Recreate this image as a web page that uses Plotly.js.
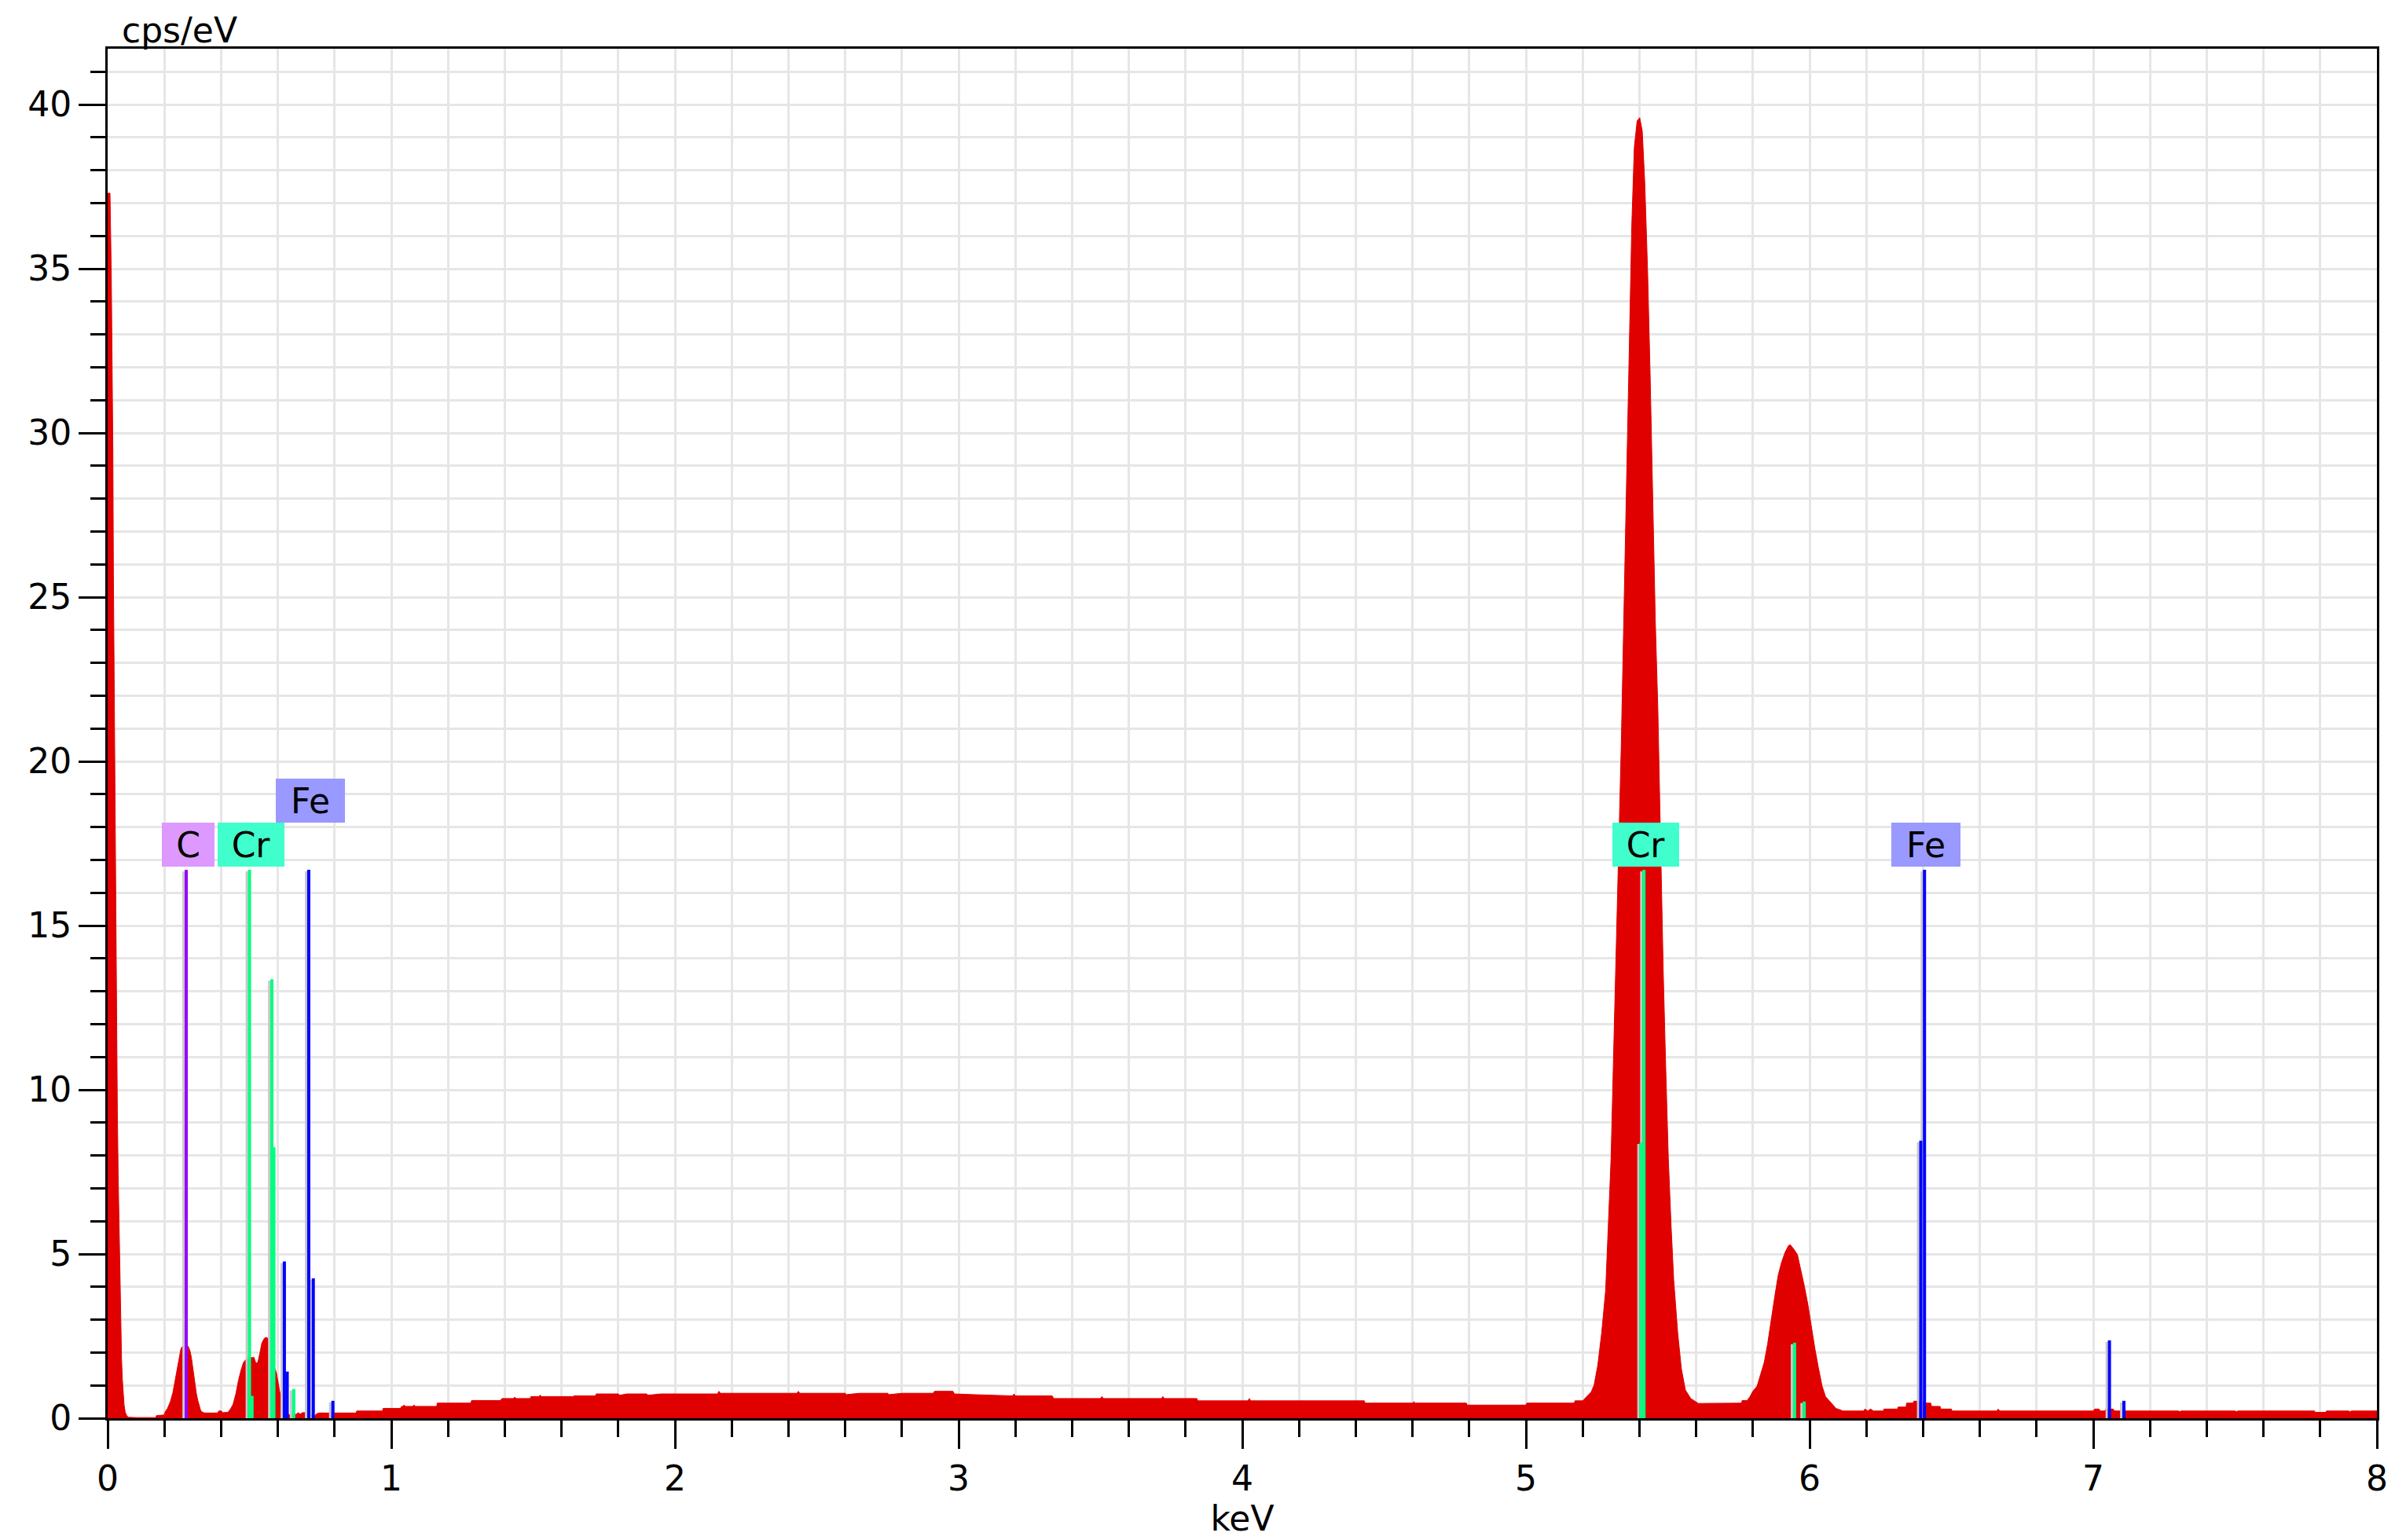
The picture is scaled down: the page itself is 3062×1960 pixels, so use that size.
<!DOCTYPE html>
<html><head><meta charset="utf-8">
<script src="https://cdn.plot.ly/plotly-3.0.1.min.js"></script>
<style>html,body{margin:0;padding:0;background:#fff}#chart{width:3062px;height:1960px}</style>
</head><body><div id="chart"></div>
<script>
// ---- Spectrum: [keV, cps/eV] ----
const specZero = [[0,37.3],[0.0083,37.3],[0.0129,34.8],[0.0157,32.3],[0.0185,29.4],[0.0203,25.7],[0.0231,22.2],[0.0259,18.6],[0.0286,15.4],[0.0314,12.2],[0.0342,9.4],[0.0369,7.5],[0.0406,5.6],[0.0434,3.7],[0.0462,2.8],[0.049,1.8],[0.0517,1.2],[0.0545,0.75],[0.058,0.4],[0.062,0.18],[0.067,0.08],[0.073,0.03],[0.10,0.02],[0.17,0.02]];
const specLow = [[0.172,0.08],[0.200,0.10],[0.202,0.18],[0.211,0.30],[0.221,0.50],[0.230,0.78],[0.239,1.22],[0.248,1.70],[0.258,2.10],[0.262,2.17],[0.276,2.22],[0.283,2.20],[0.290,2.06],[0.295,1.86],[0.299,1.58],[0.304,1.30],[0.308,0.98],[0.313,0.74],[0.318,0.54],[0.322,0.38],[0.327,0.26],[0.331,0.20],[0.341,0.16],[0.387,0.16],[0.392,0.22],[0.401,0.22],[0.405,0.17],[0.424,0.18],[0.433,0.28],[0.442,0.42],[0.452,0.74],[0.461,1.14],[0.470,1.46],[0.479,1.70],[0.489,1.80],[0.498,1.84],[0.507,1.85],[0.516,1.85],[0.523,1.66],[0.530,1.72],[0.537,2.00],[0.544,2.30],[0.553,2.44],[0.562,2.46],[0.572,2.30],[0.581,1.90],[0.590,1.50],[0.595,1.38],[0.599,1.18],[0.604,0.98],[0.608,0.74],[0.618,0.45],[0.627,0.25],[0.636,0.14],[0.641,0.10],[0.650,0.10],[0.664,0.12],[0.673,0.17],[0.678,0.12],[0.687,0.17],[0.696,0.17],[0.710,0.12],[0.730,0.08],[0.738,0.14],[0.747,0.16],[0.876,0.16],[0.878,0.22],[0.969,0.22],[0.971,0.30],[1.033,0.30],[1.036,0.36]];
const specBackground = [[1.04,0.36],[1.045,0.40],[1.05,0.36],[1.075,0.36],[1.08,0.40],[1.085,0.36],[1.16,0.36],[1.162,0.46],[1.28,0.46],[1.283,0.54],[1.385,0.54],[1.39,0.60],[1.43,0.60],[1.435,0.64],[1.44,0.60],[1.49,0.60],[1.492,0.66],[1.52,0.66],[1.525,0.70],[1.53,0.66],[1.64,0.66],[1.645,0.68],[1.72,0.68],[1.722,0.74],[1.80,0.74],[1.805,0.70],[1.83,0.74],[1.90,0.74],[1.905,0.70],[1.95,0.74],[2.15,0.74],[2.155,0.82],[2.16,0.76],[2.43,0.76],[2.435,0.82],[2.44,0.76],[2.60,0.76],[2.605,0.72],[2.65,0.76],[2.75,0.76],[2.755,0.72],[2.80,0.76],[2.91,0.76],[2.915,0.82],[2.98,0.82],[2.985,0.74],[3.05,0.72],[3.11,0.70],[3.19,0.68],[3.195,0.74],[3.20,0.68],[3.33,0.68],[3.335,0.60],[3.50,0.60],[3.505,0.66],[3.51,0.60],[3.715,0.60],[3.72,0.66],[3.725,0.60],[3.84,0.60],[3.843,0.53],[4.02,0.53],[4.025,0.60],[4.03,0.53],[4.43,0.53],[4.433,0.46],[4.60,0.46],[4.605,0.50],[4.61,0.46],[4.79,0.46],[4.793,0.40],[5.00,0.40],[5.003,0.46],[5.17,0.46],[5.173,0.53],[5.20,0.53]];
const specCrKa = [[5.215,0.66],[5.230,0.80],[5.240,1.0],[5.253,1.6],[5.267,2.6],[5.281,3.9],[5.290,5.8],[5.300,7.9],[5.309,11.1],[5.318,14.1],[5.327,17.3],[5.336,20.5],[5.346,24.8],[5.355,28.8],[5.364,32.8],[5.373,36.3],[5.382,38.7],[5.392,39.5],[5.401,39.6],[5.410,39.2],[5.419,37.6],[5.429,34.9],[5.438,31.7],[5.447,28.0],[5.456,24.3],[5.465,21.6],[5.470,19.4],[5.476,16.8],[5.484,13.6],[5.493,10.6],[5.502,7.9],[5.512,5.8],[5.521,4.2],[5.535,2.6],[5.548,1.5],[5.562,0.86],[5.581,0.60],[5.608,0.45],[5.70,0.45],[5.76,0.46],[5.762,0.54],[5.78,0.54]];
const specCrKb = [[5.79,0.66],[5.80,0.82],[5.815,0.98],[5.827,1.3],[5.84,1.7],[5.852,2.26],[5.864,2.98],[5.877,3.7],[5.889,4.34],[5.901,4.74],[5.914,5.06],[5.926,5.26],[5.932,5.28],[5.945,5.14],[5.957,4.98],[5.970,4.5],[5.982,4.0],[5.994,3.46],[6.007,2.74],[6.019,2.1],[6.031,1.54],[6.044,0.98],[6.056,0.66],[6.068,0.54],[6.081,0.42],[6.093,0.30],[6.118,0.22]];
const specHigh = [[6.19,0.22],[6.195,0.28],[6.205,0.22],[6.215,0.28],[6.225,0.22],[6.26,0.22],[6.262,0.28],[6.31,0.28],[6.312,0.34],[6.34,0.34],[6.342,0.46],[6.365,0.46],[6.367,0.52],[6.40,0.52],[6.41,0.46],[6.427,0.46],[6.43,0.36],[6.46,0.36],[6.462,0.28],[6.50,0.28],[6.502,0.22],[6.66,0.22],[6.665,0.28],[6.67,0.22],[7.00,0.22],[7.005,0.28],[7.02,0.28],[7.025,0.22],[7.04,0.22],[7.045,0.28],[7.07,0.28],[7.075,0.22],[7.30,0.22],[7.305,0.20],[7.31,0.22],[7.50,0.22],[7.505,0.20],[7.51,0.22],[7.78,0.22],[7.782,0.18],[7.82,0.18],[7.822,0.22],[7.90,0.22],[7.905,0.20],[7.91,0.22],[8.0,0.22]];

// ---- Element line markers ----
const lineEnergy  = [0.277, 0.500, 0.509, 0.579, 0.586, 0.656, 0.623, 0.633, 0.709, 0.725, 0.794, 5.406, 5.416, 5.947, 5.981, 6.392, 6.405, 7.057, 7.108];
const lineHeight  = [16.7, 16.7, 0.68, 13.37, 8.25, 0.89, 4.77, 1.42, 16.7, 4.26, 0.53, 8.4, 16.7, 2.30, 0.51, 8.45, 16.7, 2.37, 0.53];
const lineElement = ['C','Cr','Cr','Cr','Cr','Cr','Fe','Fe','Fe','Fe','Fe','Cr','Cr','Cr','Cr','Fe','Fe','Fe','Fe'];

// ---- Element labels ----
const labelElement = ['C','Cr','Fe','Cr','Fe'];
const labelEnergy  = [0.277, 0.500, 0.709, 5.416, 6.405];
const labelLevel   = [0, 0, 1, 0, 0];

// ---- Axes ----
const xTickVals = [0,1,2,3,4,5,6,7,8];
const yTickVals = [0,5,10,15,20,25,30,35,40];
const xTitle = 'keV';
const yTitle = 'cps/eV';

// ---- Styles ----
const W = 3062, H = 1960;
const M = {l:137, r:37, t:62, b:155};
const X_RANGE = [0, 8], Y_RANGE = [0, 41.7];
const plotW = W - M.l - M.r, plotH = H - M.t - M.b;
const keVPerPx = (X_RANGE[1]-X_RANGE[0]) / plotW;
const cpsPerPx = (Y_RANGE[1]-Y_RANGE[0]) / plotH;
const FONT = 'DejaVu Sans, Verdana, sans-serif';
const palette = {
  C:  {line:'#9900FF', label:'#DD99FF'},
  Cr: {line:'#00FF80', label:'#40FFCC'},
  Fe: {line:'#0000FF', label:'#9999FF'}
};
const labelWidth = {C:67, Cr:85, Fe:88};
const LABEL_H = 56, LABEL_BASE = 16.8;
const GRID = '#e6e6e6';

const spectrum = [].concat(specZero, specLow, specBackground, specCrKa, specCrKb, specHigh);

const traces = [];
traces.push({
  type:'scatter', mode:'lines',
  x: spectrum.map(p=>p[0]), y: spectrum.map(p=>p[1]),
  fill:'tozeroy', fillcolor:'#E00000',
  line:{color:'#E00000', width:1}, hoverinfo:'skip', cliponaxis:true
});

// gray shadows (drawn first)
const sx=[], sy=[];
lineEnergy.forEach((e,i)=>{
  sx.push(e - 3.4*keVPerPx, e - 3.4*keVPerPx, null);
  sy.push(0, lineHeight[i] - 2*cpsPerPx, null);
});
traces.push({type:'scatter', mode:'lines', x:sx, y:sy, line:{color:'#C8C8C8', width:3}, hoverinfo:'skip'});

// colored lines per element
Object.keys(palette).forEach(el=>{
  const x=[], y=[];
  lineEnergy.forEach((e,i)=>{
    if (lineElement[i]!==el) return;
    x.push(e, e, null); y.push(0, lineHeight[i], null);
  });
  traces.push({type:'scatter', mode:'lines', x, y, line:{color:palette[el].line, width:4}, hoverinfo:'skip'});
});

const annotations = labelElement.map((el,i)=>({
  x: labelEnergy[i], y: LABEL_BASE, xref:'x', yref:'y',
  xanchor:'center', yanchor:'bottom', xshift:2, yshift: labelLevel[i]*LABEL_H,
  text: el, showarrow:false, bgcolor: palette[el].label,
  width: labelWidth[el], height: LABEL_H, borderpad:0, borderwidth:0,
  font:{family:FONT, size:44, color:'#000'}
}));
annotations.push({
  xref:'paper', yref:'paper', x:0, y:1, xanchor:'left', yanchor:'bottom',
  xshift:16, yshift:-4, text:yTitle, showarrow:false,
  font:{family:FONT, size:44, color:'#000'}
});

const axisCommon = {
  showline:true, linewidth:3, linecolor:'#000', mirror:true,
  ticks:'outside', tickwidth:3, tickcolor:'#000',
  showgrid:true, gridcolor:GRID, gridwidth:3, zeroline:false,
  tickfont:{family:FONT, size:44, color:'#000'}, fixedrange:true
};

const layout = {
  width:W, height:H, margin:M, paper_bgcolor:'#fff', plot_bgcolor:'#fff',
  showlegend:false, font:{family:FONT, size:44, color:'#000'},
  xaxis: Object.assign({}, axisCommon, {
    range:X_RANGE, tickmode:'array', tickvals:xTickVals, ticktext:xTickVals.map(String),
    ticklen:36,
    minor:{dtick:0.2, tick0:0, ticks:'outside', ticklen:21, tickwidth:3, tickcolor:'#000', showgrid:true, gridcolor:GRID, gridwidth:3},
    title:{text:xTitle, font:{family:FONT, size:44, color:'#000'}, standoff:8}
  }),
  yaxis: Object.assign({}, axisCommon, {
    range:Y_RANGE, tickmode:'array', tickvals:yTickVals, ticktext:yTickVals.map(String),
    ticklen:34,
    minor:{dtick:1, tick0:0, ticks:'outside', ticklen:19, tickwidth:3, tickcolor:'#000', showgrid:true, gridcolor:GRID, gridwidth:3}
  }),
  annotations
};

Plotly.newPlot('chart', traces, layout, {displayModeBar:false, staticPlot:true});
</script></body></html>
